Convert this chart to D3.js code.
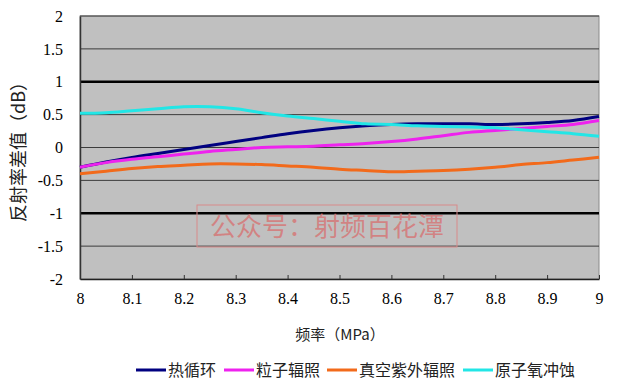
<!DOCTYPE html>
<html>
<head>
<meta charset="utf-8">
<script src="https://cdn.jsdelivr.net/npm/d3@7"></script>
<style>
body { margin: 0; background: #fff; }
.tickfont { font-family: "Liberation Serif", "Times New Roman", "DejaVu Serif", serif; font-size: 16px; }
</style>
</head>
<body>
<div id="chart"></div>
<script>
// reflectivity difference vs frequency, four test conditions

var freq = [8.0, 8.05, 8.1, 8.15, 8.2, 8.25, 8.3, 8.35, 8.4, 8.45, 8.5, 8.55, 8.6, 8.65, 8.7, 8.75, 8.8, 8.85, 8.9, 8.95, 9.0];
var thermal = [-0.30, -0.22, -0.15, -0.09, -0.03, 0.03, 0.09, 0.15, 0.21, 0.26, 0.30, 0.33, 0.35, 0.36, 0.36, 0.36, 0.35, 0.36, 0.38, 0.41, 0.47];
var particle = [-0.30, -0.23, -0.18, -0.14, -0.10, -0.06, -0.03, 0.00, 0.01, 0.02, 0.04, 0.06, 0.09, 0.13, 0.18, 0.23, 0.26, 0.29, 0.32, 0.35, 0.41];
var vacuumUV = [-0.40, -0.36, -0.32, -0.29, -0.27, -0.25, -0.25, -0.26, -0.28, -0.30, -0.33, -0.35, -0.37, -0.36, -0.35, -0.33, -0.30, -0.26, -0.23, -0.19, -0.15];
var atomicO = [0.52, 0.53, 0.56, 0.59, 0.62, 0.62, 0.59, 0.53, 0.48, 0.44, 0.40, 0.36, 0.35, 0.33, 0.32, 0.31, 0.30, 0.27, 0.24, 0.21, 0.17];

var seriesNames = ["热循环", "粒子辐照", "真空紫外辐照", "原子氧冲蚀"];
var seriesColors = ["#000080", "#ee22ee", "#f26a1b", "#22e6e6"];
var yTicks = [2, 1.5, 1, 0.5, 0, -0.5, -1, -1.5, -2];
var xTicks = [8, 8.1, 8.2, 8.3, 8.4, 8.5, 8.6, 8.7, 8.8, 8.9, 9];

var svg = d3.select("#chart").append("svg")
    .attr("width", 640)
    .attr("height", 388);

var margin = {top: 16, right: 41, bottom: 109, left: 80},
    width = 640 - margin.left - margin.right,
    height = 388 - margin.top - margin.bottom;

var g = svg.append("g").attr("transform", "translate(" + margin.left + "," + margin.top + ")");

var x = d3.scaleLinear().domain([8, 9]).range([0, width]);
var y = d3.scaleLinear().domain([-2, 2]).range([height, 0]);

// plain number labels, hyphen minus like the original
var numFmt = function(d){ return String(+d.toFixed(1)); };

// plot background
g.append("rect")
    .attr("width", width)
    .attr("height", height)
    .attr("fill", "#c0c0c0")
    .attr("stroke", "#8a8a8a");

// grid lines, 1 and -1 drawn heavy
g.selectAll(".grid")
    .data(yTicks.filter(function(d){ return d != -2; }))
    .enter()
    .append("line")
    .attr("class", "grid")
    .attr("x1", 0)
    .attr("x2", width)
    .attr("y1", function(d){ return y(d); })
    .attr("y2", function(d){ return y(d); })
    .attr("stroke", function(d){ return Math.abs(d) == 1 ? "#000" : "#3c3c3c"; })
    .attr("stroke-width", function(d){ return Math.abs(d) == 1 ? 2.5 : 1; });

// left axis
var yAxis = d3.axisLeft(y).tickValues(yTicks).tickSize(0).tickPadding(17).tickFormat(numFmt);
g.append("g")
    .attr("class", "y axis")
    .call(yAxis)
    .attr("font-family", null)
    .attr("font-size", null)
    .call(function(s){ s.select(".domain").attr("stroke", "#333").attr("stroke-width", 1.5); })
    .selectAll("text")
        .attr("class", "tickfont")
        .attr("fill", "#000");

// bottom axis, ticks point up into the plot
var xAxis = d3.axisBottom(x).tickValues(xTicks).tickSizeInner(-4).tickSizeOuter(0).tickPadding(14)
    .tickFormat(numFmt);
g.append("g")
    .attr("class", "xAxis")
    .attr("transform", "translate(0," + height + ")")
    .call(xAxis)
    .attr("font-family", null)
    .attr("font-size", null)
    .call(function(s){ s.select(".domain").attr("stroke", "#222").attr("stroke-width", 1.5); })
    .call(function(s){ s.selectAll(".tick line").attr("stroke", "#333"); })
    .selectAll("text")
        .attr("class", "tickfont")
        .attr("fill", "#000");

// lines
var allSeries = [thermal, particle, vacuumUV, atomicO];
var line = d3.line()
    .x(function(d, i){ return x(freq[i]); })
    .y(function(d){ return y(d); })
    .curve(d3.curveCatmullRom);

g.selectAll(".series")
    .data(allSeries)
    .enter()
    .append("path")
    .attr("class", "series")
    .attr("d", line)
    .attr("fill", "none")
    .attr("stroke", function(d, i){ return seriesColors[i]; })
    .attr("stroke-width", 3);

// watermark stamp
svg.append("rect")
    .attr("x", 197)
    .attr("y", 205)
    .attr("width", 260)
    .attr("height", 42)
    .attr("fill", "none")
    .attr("stroke", "#d88a8a")
    .attr("stroke-width", 1);
svg.append("text")
    .attr("x", 327)
    .attr("y", 236)
    .attr("text-anchor", "middle")
    .style("font-family", "'Noto Sans CJK SC', sans-serif")
    .style("font-size", "26px")
    .attr("fill", "#d57878")
    .attr("fill-opacity", 0.85)
    .text("公众号：射频百花潭");

// axis labels
svg.append("text")
    .attr("transform", "translate(25," + (margin.top + height / 2) + ") rotate(-90)")
    .attr("text-anchor", "middle")
    .style("font-family", "'Noto Sans CJK SC', serif")
    .style("font-size", "18px")
    .attr("fill", "#222")
    .text("反射率差值（dB）");

svg.append("text")
    .attr("x", 340)
    .attr("y", 340)
    .attr("text-anchor", "middle")
    .style("font-family", "'Noto Sans CJK SC', sans-serif")
    .style("font-size", "15px")
    .attr("fill", "#222")
    .text("频率（MPa）");

// legend
var legendX = [136, 224, 327, 463];
var legend = svg.selectAll(".legend")
    .data(seriesNames)
    .enter()
    .append("g")
    .attr("class", "legend")
    .attr("transform", function(d, i){ return "translate(" + legendX[i] + ",370)"; });
legend.append("line")
    .attr("x1", 0)
    .attr("x2", 30)
    .attr("stroke", function(d, i){ return seriesColors[i]; })
    .attr("stroke-width", 3);
legend.append("text")
    .attr("x", 32)
    .attr("dy", "0.35em")
    .style("font-family", "'Noto Sans CJK SC', sans-serif")
    .style("font-size", "16px")
    .attr("fill", "#222")
    .text(function(d){ return d; });
</script>
</body>
</html>
